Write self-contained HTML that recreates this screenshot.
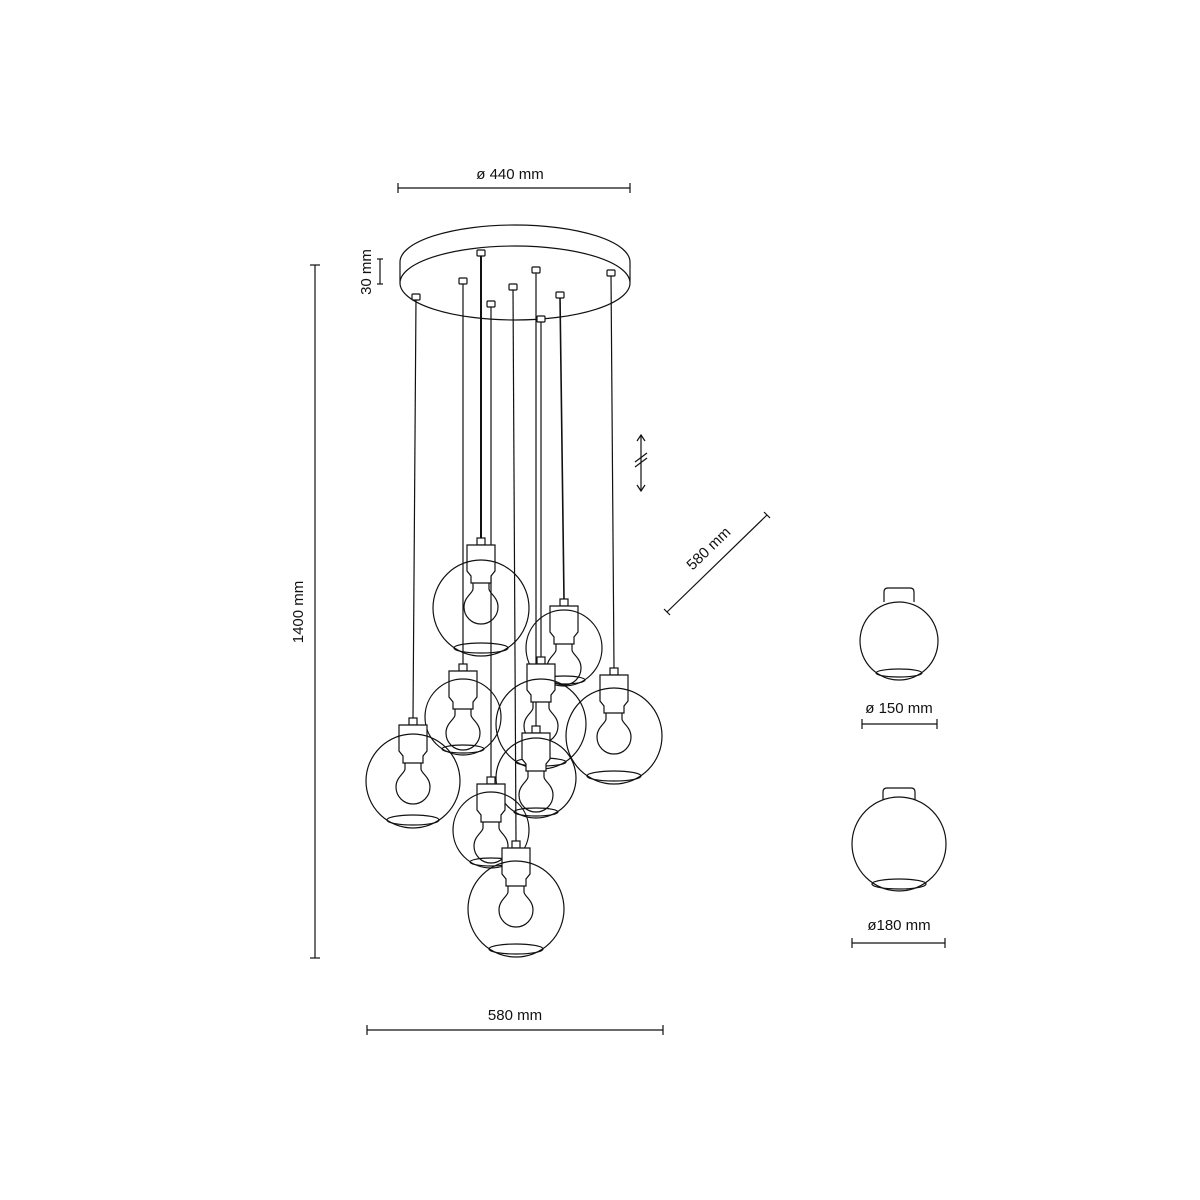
<!DOCTYPE html>
<html><head><meta charset="utf-8"><style>html,body{margin:0;padding:0;background:#fff}svg{display:block}</style></head>
<body>
<svg width="1200" height="1200" viewBox="0 0 1200 1200" xmlns="http://www.w3.org/2000/svg" font-family="Liberation Sans, sans-serif" font-size="15" fill="none" stroke="#111" stroke-width="1.2">
<defs>
<g id="sock">
<rect x="-4" y="0" width="8" height="7" fill="#fff"/><path d="M-14,7 H14 V33 L10,38 V45 H-10 V38 L-14,33 Z" fill="#fff"/>
<path d="M-8,45 V51 C-8,55 -17,59 -17,69 A17,17 0 1 0 17,69 C17,59 8,55 8,51 V45"/>
</g>
</defs>
<g>
<line x1="398" y1="188" x2="630" y2="188"/><line x1="398" y1="183" x2="398" y2="193"/><line x1="630" y1="183" x2="630" y2="193"/>
<line x1="315" y1="265" x2="315" y2="958"/><line x1="310" y1="265" x2="320" y2="265"/><line x1="310" y1="958" x2="320" y2="958"/>
<line x1="380" y1="259" x2="380" y2="284"/><line x1="377" y1="259" x2="383" y2="259"/><line x1="377" y1="284" x2="383" y2="284"/>
<line x1="367" y1="1030" x2="663" y2="1030"/><line x1="367" y1="1025" x2="367" y2="1035"/><line x1="663" y1="1025" x2="663" y2="1035"/>
<line x1="667" y1="612" x2="767" y2="515"/><line x1="664" y1="609" x2="670" y2="615"/><line x1="764" y1="512" x2="770" y2="518"/>
<line x1="641" y1="435" x2="641" y2="491"/><polyline points="637,441 641,435 645,441"/><polyline points="637,485 641,491 645,485"/>
<line x1="635" y1="462" x2="647" y2="453"/><line x1="635" y1="467" x2="647" y2="458"/>
<line x1="862" y1="724" x2="937" y2="724"/><line x1="862" y1="719" x2="862" y2="729"/><line x1="937" y1="719" x2="937" y2="729"/>
<line x1="852" y1="943" x2="945" y2="943"/><line x1="852" y1="938" x2="852" y2="948"/><line x1="945" y1="938" x2="945" y2="948"/>
</g>
<g fill="#111" stroke="none">
<text x="510" y="179" text-anchor="middle">ø 440 mm</text>
<text transform="translate(303,612) rotate(-90)" text-anchor="middle">1400 mm</text>
<text transform="translate(371,272) rotate(-90)" text-anchor="middle">30 mm</text>
<text x="515" y="1020" text-anchor="middle">580 mm</text>
<text transform="translate(712,552) rotate(-44)" text-anchor="middle">580 mm</text>
<text x="899" y="713" text-anchor="middle">ø 150 mm</text>
<text x="899" y="930" text-anchor="middle">ø180 mm</text>
</g>
<path d="M400,262 A115,37 0 0 1 630,262"/>
<line x1="400" y1="262" x2="400" y2="283"/><line x1="630" y1="262" x2="630" y2="283"/>
<ellipse cx="515" cy="283" rx="115" ry="37" fill="#fff"/>
<g>
<line x1="416" y1="298" x2="413" y2="718"/>
<line x1="463" y1="282" x2="463" y2="664"/>
<line x1="481" y1="254" x2="481" y2="540" stroke-width="2"/>
<line x1="491" y1="305" x2="491" y2="777"/>
<line x1="513" y1="288" x2="516" y2="841"/>
<line x1="536" y1="271" x2="536" y2="726"/>
<line x1="541" y1="320" x2="541" y2="657"/>
<line x1="560" y1="296" x2="564" y2="599" stroke-width="1.6"/>
<line x1="611" y1="274" x2="614" y2="668"/>
</g>
<g fill="#fff">
<rect x="412" y="294" width="8" height="6" rx="1"/><rect x="459" y="278" width="8" height="6" rx="1"/><rect x="477" y="250" width="8" height="6" rx="1"/>
<rect x="487" y="301" width="8" height="6" rx="1"/><rect x="509" y="284" width="8" height="6" rx="1"/><rect x="532" y="267" width="8" height="6" rx="1"/>
<rect x="537" y="316" width="8" height="6" rx="1"/><rect x="556" y="292" width="8" height="6" rx="1"/><rect x="607" y="270" width="8" height="6" rx="1"/>
</g>
<g transform="translate(481,538)"><use href="#sock"/><circle cx="0" cy="70" r="48"/><ellipse cx="0" cy="110" rx="27" ry="5"/></g>
<g transform="translate(564,599)"><use href="#sock"/><circle cx="0" cy="49" r="38"/><ellipse cx="0" cy="81" rx="21" ry="4"/></g>
<g transform="translate(463,664)"><use href="#sock"/><circle cx="0" cy="53" r="38"/><ellipse cx="0" cy="85" rx="21" ry="4"/></g>
<g transform="translate(541,657)"><use href="#sock"/><circle cx="0" cy="67" r="45"/><ellipse cx="0" cy="105" rx="25" ry="4"/></g>
<g transform="translate(614,668)"><use href="#sock"/><circle cx="0" cy="68" r="48"/><ellipse cx="0" cy="108" rx="27" ry="5"/></g>
<g transform="translate(413,718)"><use href="#sock"/><circle cx="0" cy="63" r="47"/><ellipse cx="0" cy="102" rx="26" ry="5"/></g>
<g transform="translate(536,726)"><use href="#sock"/><circle cx="0" cy="52" r="40"/><ellipse cx="0" cy="86" rx="22" ry="4"/></g>
<g transform="translate(491,777)"><use href="#sock"/><circle cx="0" cy="53" r="38"/><ellipse cx="0" cy="85" rx="21" ry="4"/></g>
<g transform="translate(516,841)"><use href="#sock"/><circle cx="0" cy="68" r="48"/><ellipse cx="0" cy="108" rx="27" ry="5"/></g>
<path d="M884,602 V592 Q884,588 888,588 H910 Q914,588 914,592 V602" fill="#fff"/>
<circle cx="899" cy="641" r="39"/><ellipse cx="899" cy="673" rx="23" ry="4"/>
<path d="M883,800 V792 Q883,788 887,788 H911 Q915,788 915,792 V800" fill="#fff"/>
<circle cx="899" cy="844" r="47"/><ellipse cx="899" cy="884" rx="27" ry="5"/>
</svg>
</body></html>
